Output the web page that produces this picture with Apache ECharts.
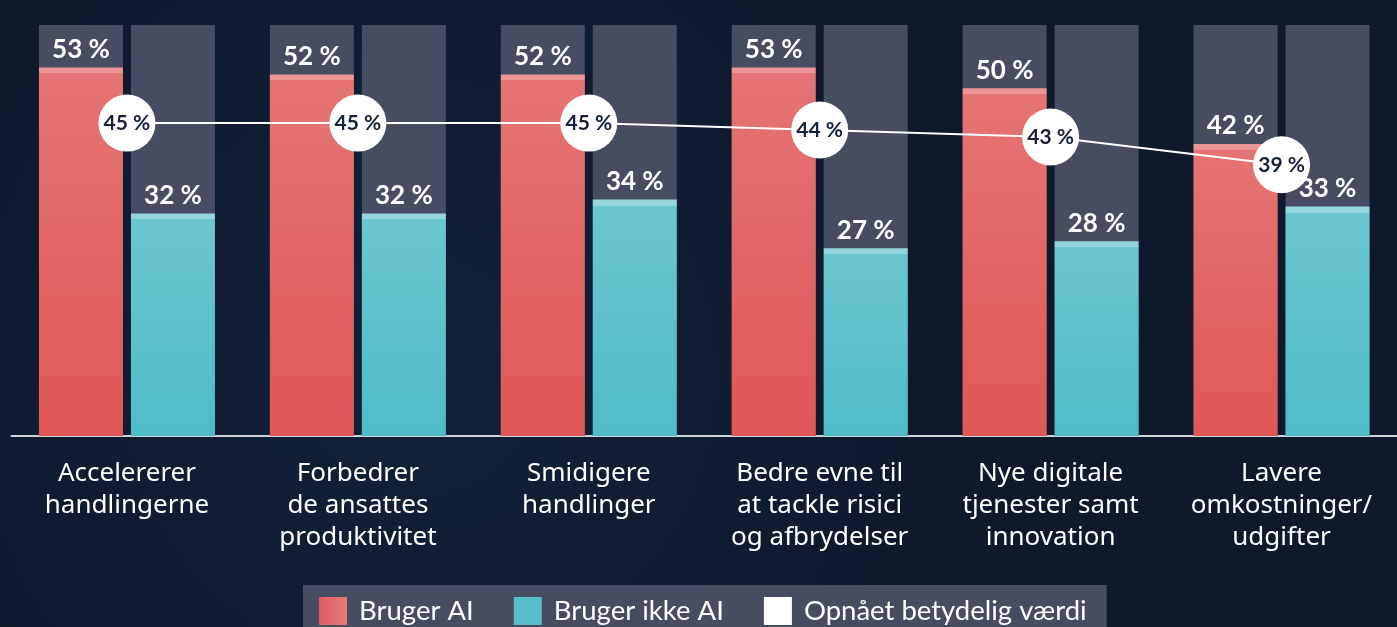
<!DOCTYPE html>
<html><head><meta charset="utf-8">
<script src="https://cdn.jsdelivr.net/npm/echarts@6/dist/echarts.min.js"></script>
<style>html,body{margin:0;padding:0;background:#0f1a2e;}#c{width:1397px;height:627px;}</style>
</head><body><div id="c"></div>
<script>
const categories = ['Accelererer\nhandlingerne','Forbedrer\nde ansattes\nproduktivitet','Smidigere\nhandlinger','Bedre evne til\nat tackle risici\nog afbrydelser','Nye digitale\ntjenester samt\ninnovation','Lavere\nomkostninger/\nudgifter'];
const brugerAI = [53, 52, 52, 53, 50, 42];
const brugerIkkeAI = [32, 32, 34, 27, 28, 33];
const opnaaet = [45, 45, 45, 44, 43, 39];
const seriesNames = ['Bruger AI', 'Bruger ikke AI', 'Opnået betydelig værdi'];

const Y_MAX = 59.1, PX_PER = 6.95, CAP = 6;
function capped(v, cap, top, bottom){
  const o = Math.min(0.2, CAP / (v * PX_PER));
  return {value: v, itemStyle: {color: new echarts.graphic.LinearGradient(0,0,0,1,[
    {offset:0,color:cap},{offset:o,color:cap},{offset:o,color:top},{offset:1,color:bottom}])}};
}
const chart = echarts.init(document.getElementById('c'));
const barLabel = {show:true, position:'top', distance:5, color:'#ffffff', fontSize:26, fontWeight:'bold', fontFamily:'Lato', formatter:'{c} %'};
chart.setOption({
  backgroundColor: new echarts.graphic.RadialGradient(0.3,0.6,0.8,[{offset:0,color:'#12213a'},{offset:1,color:'#0e192c'}]),
  animation:false,
  grid:{left:11.5, top:25, width:1395.6, bottom:191, containLabel:false},
  legend:{
    left:303, top:585, padding:[12,20,12,16], itemGap:40, itemWidth:28, itemHeight:28,
    backgroundColor:'#474d60',
    textStyle:{color:'#ffffff', fontSize:27.5, fontFamily:'Lato', padding:[0,0,0,7]},
    data:[
      {name:seriesNames[0], icon:'rect', itemStyle:{color:new echarts.graphic.LinearGradient(0,0,1,0,[{offset:0,color:'#e05a5a'},{offset:1,color:'#e67b7b'}])}},
      {name:seriesNames[1], icon:'rect', itemStyle:{color:'#55bfc9'}},
      {name:seriesNames[2], icon:'rect', itemStyle:{color:'#ffffff'}}
    ]
  },
  xAxis:{type:'category', data:categories,
    axisLine:{show:true, lineStyle:{color:'#d0d3da', width:2}}, axisTick:{show:false},
    axisLabel:{color:'#ffffff', fontSize:26, lineHeight:32, fontFamily:'Noto Sans', margin:22, interval:0}},
  yAxis:{type:'value', min:0, max:Y_MAX, show:false, splitLine:{show:false}},
  series:[
    {name:seriesNames[0], type:'bar', barWidth:84, barGap:'9.5%',
     showBackground:true, backgroundStyle:{color:'#474d60'},
     data:brugerAI.map(v=>capped(v,'#ec9595','#e57474','#e05757')), label:barLabel, z:2},
    {name:seriesNames[1], type:'bar', barWidth:84,
     showBackground:true, backgroundStyle:{color:'#474d60'},
     data:brugerIkkeAI.map(v=>capped(v,'#97d5dc','#6bc6cf','#4fbcc8')), label:barLabel, z:2},
    {name:seriesNames[2], type:'line', data:opnaaet, symbol:'circle', symbolSize:57,
     lineStyle:{color:'#ffffff', width:2}, itemStyle:{color:'#ffffff'},
     label:{show:true, position:'inside', color:'#14213a', fontSize:21, fontWeight:'bold', fontFamily:'Lato', formatter:'{c} %'},
     z:5}
  ]
});
</script></body></html>
